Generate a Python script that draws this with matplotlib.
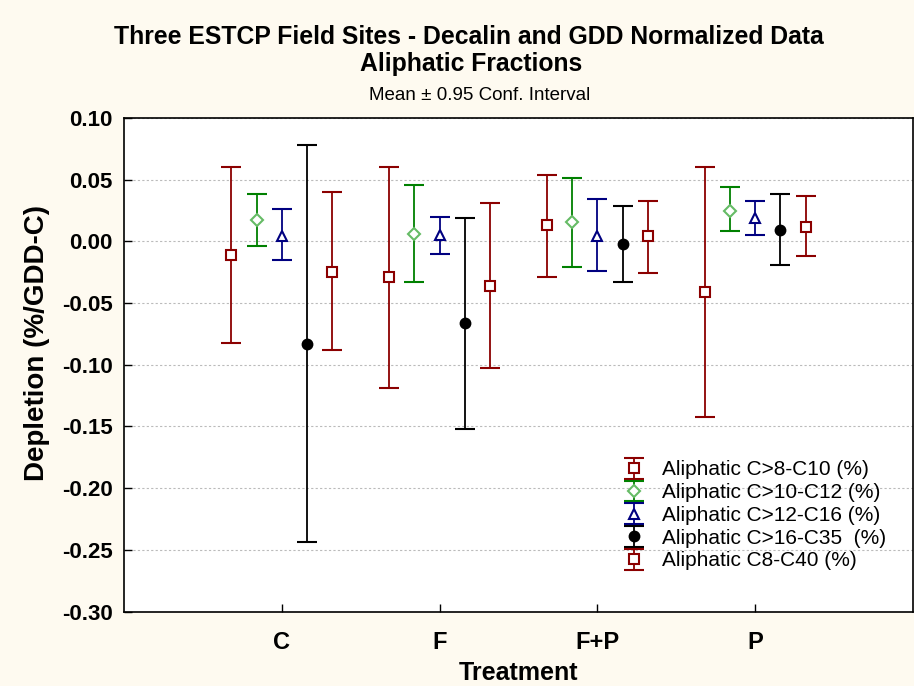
import matplotlib
matplotlib.use('Agg')
import matplotlib.pyplot as plt
import numpy as np

plt.rcParams['font.family'] = ['Liberation Sans', 'DejaVu Sans']

treatments = ['C', 'F', 'F+P', 'P']

# mean, lower and upper 0.95 confidence limits per treatment
c8_c10_mean = [-0.011, -0.029, 0.013, -0.041]
c8_c10_lo = [-0.082, -0.119, -0.029, -0.142]
c8_c10_hi = [0.060, 0.060, 0.054, 0.060]

c10_c12_mean = [0.017, 0.006, 0.016, 0.025]
c10_c12_lo = [-0.004, -0.033, -0.021, 0.008]
c10_c12_hi = [0.038, 0.046, 0.051, 0.044]

c12_c16_mean = [0.004, 0.005, 0.004, 0.019]
c12_c16_lo = [-0.015, -0.010, -0.024, 0.005]
c12_c16_hi = [0.026, 0.020, 0.034, 0.033]

c16_c35_mean = [-0.083, -0.066, -0.002, 0.009]
c16_c35_lo = [-0.244, -0.152, -0.033, -0.019]
c16_c35_hi = [0.078, 0.019, 0.029, 0.038]

c8_c40_mean = [-0.025, -0.036, 0.004, 0.012]
c8_c40_lo = [-0.088, -0.103, -0.026, -0.012]
c8_c40_hi = [0.040, 0.031, 0.033, 0.037]

labels = ['Aliphatic C>8-C10 (%)', 'Aliphatic C>10-C12 (%)',
          'Aliphatic C>12-C16 (%)', 'Aliphatic C>16-C35  (%)',
          'Aliphatic C8-C40 (%)']

y_ticks = [-0.30, -0.25, -0.20, -0.15, -0.10, -0.05, 0.00, 0.05, 0.10]

series = [
    (c8_c10_mean, c8_c10_lo, c8_c10_hi),
    (c10_c12_mean, c10_c12_lo, c10_c12_hi),
    (c12_c16_mean, c12_c16_lo, c12_c16_hi),
    (c16_c35_mean, c16_c35_lo, c16_c35_hi),
    (c8_c40_mean, c8_c40_lo, c8_c40_hi),
]

# styles: line colour, marker, marker face, marker edge
styles = [
    ('#8b0000', 's', 'white', '#8b0000'),
    ('#008000', 'D', 'white', '#66bb66'),
    ('#000080', '^', 'white', '#000080'),
    ('black', 'o', 'black', 'black'),
    ('#8b0000', 's', 'white', '#8b0000'),
]
offsets = [-0.32, -0.16, 0.0, 0.16, 0.32]
msizes = [7, 6, 7, 7, 7]

fig = plt.figure(figsize=(9.14, 6.86), dpi=100, facecolor='#fefaf0')
ax = fig.add_axes([0.1357, 0.1086, 0.863, 0.7194])
ax.set_facecolor('white')

x = np.arange(1, len(treatments) + 1)
for (mean, lo, hi), (col, mk, fc, ec), off, ms, lab in zip(series, styles, offsets, msizes, labels):
    mean = np.array(mean)
    yerr = [mean - np.array(lo), np.array(hi) - mean]
    ax.errorbar(x + off, mean, yerr=yerr, fmt=mk, color=col, ecolor=col,
                mfc=fc, mec=ec, mew=1.5, ms=ms, elinewidth=1.3, capsize=7.5,
                capthick=1.3, label=lab, zorder=3)

ax.set_xlim(0, 5)
ax.set_ylim(-0.30, 0.10)
ax.set_xticks(x)
ax.set_xticklabels(treatments, fontsize=17, fontweight='bold')
ax.set_yticks(y_ticks)
ax.set_yticklabels([f'{v:.2f}' for v in y_ticks], fontsize=16, fontweight='bold')
ax.tick_params(direction='in', length=6, width=1, top=False, right=False)
ax.tick_params(axis='x', pad=14)
ax.tick_params(axis='y', pad=8)
ax.yaxis.grid(True, linestyle=(0, (2, 2)), color='#bbbbbb', linewidth=0.8)
ax.set_axisbelow(True)
for sp in ax.spines.values():
    sp.set_linewidth(1.2)

ax.set_xlabel('Treatment', fontsize=18, fontweight='bold', labelpad=5)
ax.set_ylabel('Depletion (%/GDD-C)', fontsize=20, fontweight='bold')
ax.yaxis.set_label_coords(-0.094, 0.544)

fig.text(0.513, 0.946, 'Three ESTCP Field Sites - Decalin and GDD Normalized Data',
         ha='center', va='center', fontsize=17.8, fontweight='bold')
fig.text(0.515, 0.906, 'Aliphatic Fractions', ha='center', va='center',
         fontsize=17.8, fontweight='bold')
fig.text(0.525, 0.861, 'Mean \u00b1 0.95 Conf. Interval', ha='center', va='center',
         fontsize=13.5)

ax.legend(loc='upper left', bbox_to_anchor=(0.620, 0.306), frameon=False,
          fontsize=15, handlelength=2.0, handletextpad=0.35, labelspacing=0.18,
          borderpad=0, borderaxespad=0)

fig.savefig('out.png', dpi=100, facecolor=fig.get_facecolor())
